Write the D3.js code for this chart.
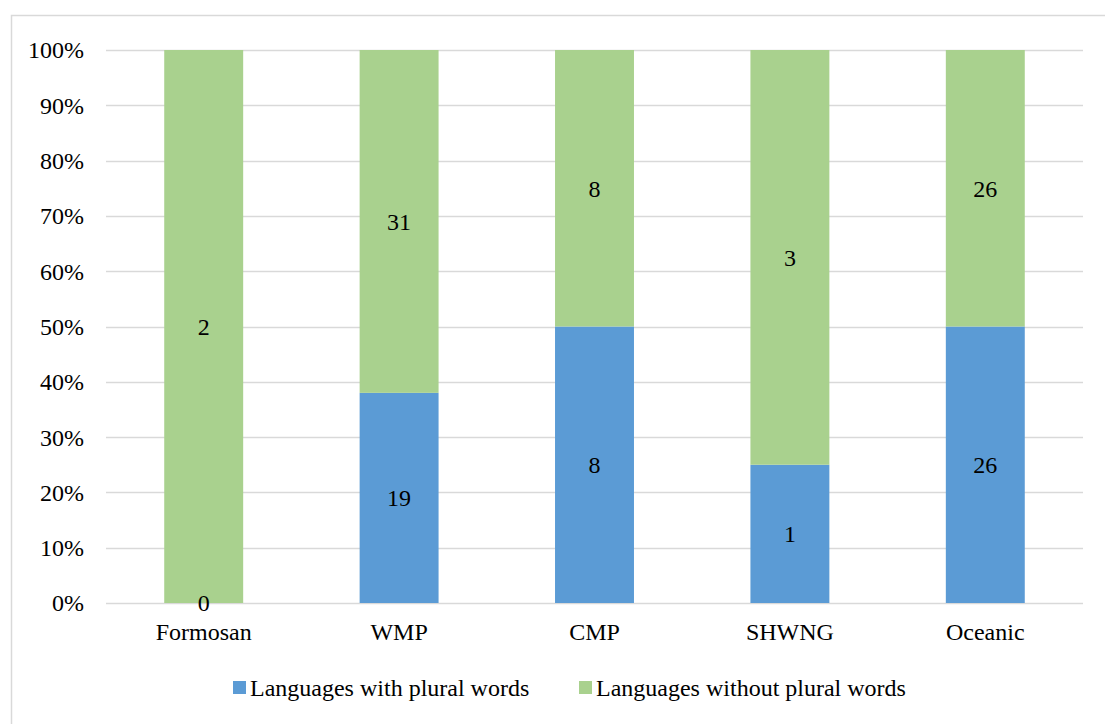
<!DOCTYPE html>
<html>
<head>
<meta charset="utf-8">
<script src="https://cdn.jsdelivr.net/npm/d3@7"></script>
<style>
  html, body { margin: 0; padding: 0; background: #fff; }
  svg text { font-family: "Liberation Serif", "Times New Roman", serif; fill: #000; }
</style>
</head>
<body>
<svg id="chart" width="1105" height="724"></svg>
<script>
const groups = ['Formosan', 'WMP', 'CMP', 'SHWNG', 'Oceanic'];
const withPlural = [0, 19, 8, 1, 26];
const withoutPlural = [2, 31, 8, 3, 26];
const seriesNames = ['Languages with plural words', 'Languages without plural words'];
const seriesColors = ['#5b9bd5', '#a9d18e'];
const yTicks = [0, 0.1, 0.2, 0.3, 0.4, 0.5, 0.6, 0.7, 0.8, 0.9, 1];

const
  margin = {top: 50, right: 22, bottom: 121, left: 106},
  width = 1105 - margin.left - margin.right,
  height = 724 - margin.top - margin.bottom,
  fontSize = '24px'
  ;

const svg = d3.select('#chart');

// outer chart frame
svg.append('rect')
  .attr('x', 11.5).attr('y', 15.5)
  .attr('width', 1105).attr('height', 724)
  .attr('fill', 'none').attr('stroke', '#d9d9d9').attr('stroke-width', 1.5);

const g = svg.append('g').attr('transform', `translate(${margin.left},${margin.top})`);

const rows = groups.map((name, i) => {
  const total = withPlural[i] + withoutPlural[i];
  return {name, with: withPlural[i] / total, without: withoutPlural[i] / total, nWith: withPlural[i], nWithout: withoutPlural[i]};
});

const stack = d3.stack().keys(['with', 'without'])(rows);

const xScale = d3.scaleBand().domain(groups).range([0, width]).paddingInner(0.596).paddingOuter(0.298);
const yScale = d3.scaleLinear().domain([0, 1]).range([height, 0]);

// gridlines
g.selectAll('line.grid')
  .data(yTicks)
  .join('line')
  .attr('class', 'grid')
  .attr('x1', 0).attr('x2', width)
  .attr('y1', d => Math.round(yScale(d)) + 0.5)
  .attr('y2', d => Math.round(yScale(d)) + 0.5)
  .attr('stroke', '#d9d9d9').attr('stroke-width', 1.5);

// y labels
g.selectAll('text.ytick')
  .data(yTicks)
  .join('text')
  .attr('class', 'ytick')
  .attr('x', -22)
  .attr('y', d => yScale(d))
  .attr('dy', '0.35em')
  .attr('text-anchor', 'end')
  .style('font-size', fontSize)
  .text(d3.format('.0%'));

// bars
const layers = g.selectAll('g.layer')
  .data(stack)
  .join('g')
  .attr('class', 'layer')
  .attr('fill', (d, i) => seriesColors[i]);

layers.selectAll('rect')
  .data(d => d)
  .join('rect')
  .attr('x', d => xScale(d.data.name))
  .attr('width', xScale.bandwidth())
  .attr('y', d => yScale(d[1]))
  .attr('height', d => yScale(d[0]) - yScale(d[1]));

// value labels
stack.forEach((layer, li) => {
  g.selectAll(`text.val${li}`)
    .data(layer)
    .join('text')
    .attr('class', `val${li}`)
    .attr('x', d => xScale(d.data.name) + xScale.bandwidth() / 2)
    .attr('y', d => yScale((d[0] + d[1]) / 2))
    .attr('dy', '0.35em')
    .attr('text-anchor', 'middle')
    .style('font-size', fontSize)
    .text(d => li === 0 ? d.data.nWith : d.data.nWithout);
});

// x labels
g.selectAll('text.xtick')
  .data(groups)
  .join('text')
  .attr('class', 'xtick')
  .attr('x', d => xScale(d) + xScale.bandwidth() / 2)
  .attr('y', height + 37)
  .attr('text-anchor', 'middle')
  .style('font-size', fontSize)
  .text(d => d);

// legend
const legendX = [233, 579];
const legend = svg.selectAll('g.legend')
  .data(seriesNames)
  .join('g')
  .attr('class', 'legend')
  .attr('transform', (d, i) => `translate(${legendX[i]},688)`);

legend.append('rect')
  .attr('x', 0).attr('y', -7)
  .attr('width', 13).attr('height', 13)
  .attr('fill', (d, i) => seriesColors[i]);

legend.append('text')
  .attr('x', 17).attr('y', 0)
  .attr('dy', '0.35em')
  .style('font-size', fontSize)
  .text(d => d);
</script>
</body>
</html>
